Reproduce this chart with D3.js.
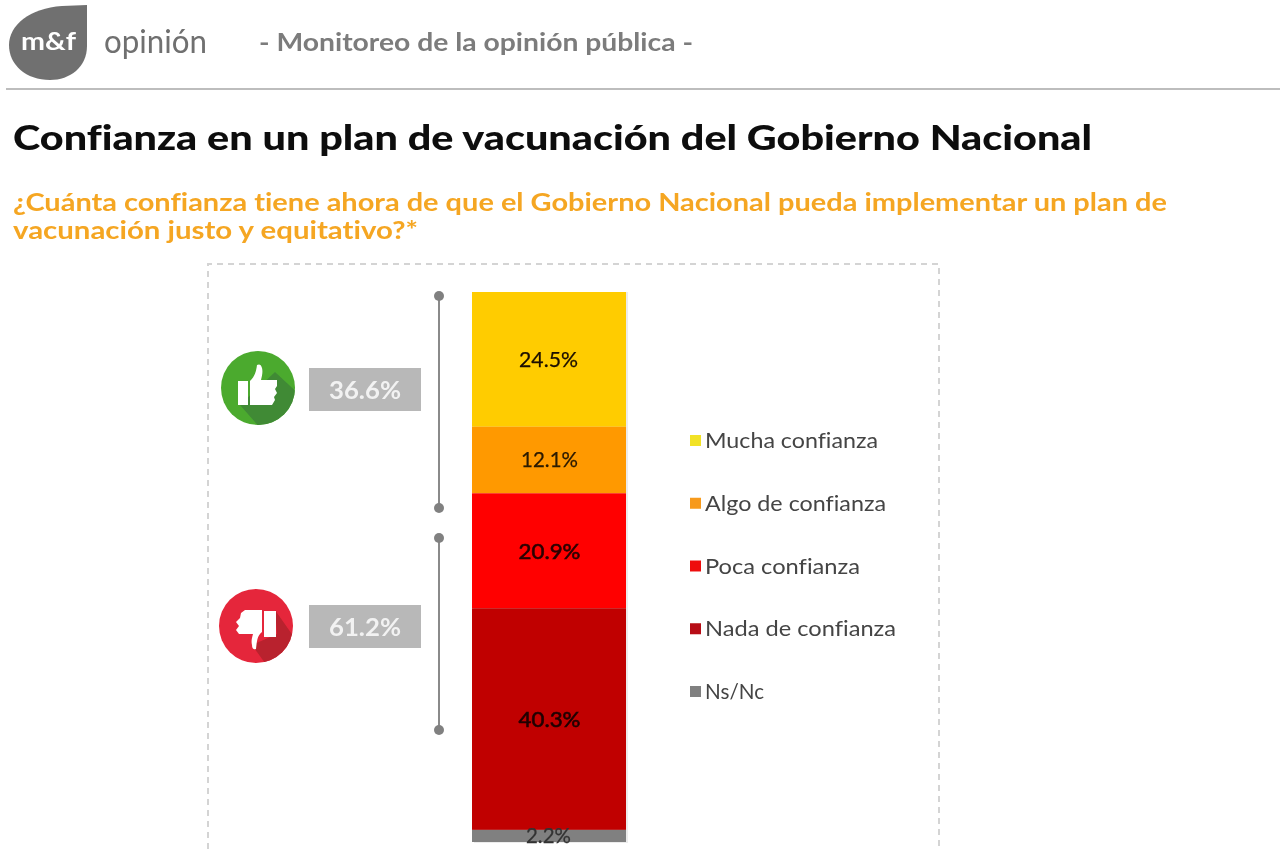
<!DOCTYPE html>
<html lang="es"><head><meta charset="utf-8">
<script src="https://cdn.jsdelivr.net/npm/d3@7"></script>
<style>html,body{margin:0;padding:0;background:#fff}svg{display:block}text{font-family:Lato,"Open Sans",sans-serif;font-variant-ligatures:none}</style>
</head><body><div id="c"></div>
<script>
const categories = ["Mucha confianza","Algo de confianza","Poca confianza","Nada de confianza","Ns/Nc"];
const values = [24.5,12.1,20.9,40.3,2.2];
const colors = ["#ffcc00","#ff9900","#ff0000","#c00000","#808080"];
const legendColors = ["#f2e227","#f79a1c","#ee1111","#b70a12","#808080"];
const groupLabels = ["36.6%","61.2%"];

const svg = d3.select("#c").append("svg").attr("width",1280).attr("height",850);
const defs = svg.append("defs");
defs.append("filter").attr("id","soft").attr("x","-5%").attr("y","-5%").attr("width","110%").attr("height","110%")
  .append("feGaussianBlur").attr("stdDeviation",0.5);
const root = svg.append("g").attr("filter","url(#soft)");

function fit(t,w){ // stretch a text to the width
  t.attr("textLength",w).attr("lengthAdjust","spacingAndGlyphs");
}

// header
root.append("path").attr("d","M62,6 L87,5 L87,46 C87,67 70,80 50,80 C26,80 9,65 9,45 C9,25 30,8 62,6 Z").attr("fill","#707070");
root.append("text").attr("x",21).attr("y",50).attr("font-size",24).attr("font-weight",700).attr("fill","#fff").text("m&f").call(fit,55);
root.append("text").attr("x",104).attr("y",53).attr("font-size",32).attr("fill","#6f6f6f").text("opinión").call(fit,103);
root.append("text").attr("x",259).attr("y",51).attr("font-size",25).attr("font-weight",700).attr("fill","#7b7b7b").text("- Monitoreo de la opinión pública -").call(fit,434);
root.append("rect").attr("x",6).attr("y",88).attr("width",1274).attr("height",2).attr("fill","#bdbdbd");

// titles
root.append("text").attr("x",13).attr("y",150).attr("font-size",34).attr("font-weight",900).attr("fill","#0a0a0a").text("Confianza en un plan de vacunación del Gobierno Nacional").call(fit,1079);
root.append("text").attr("x",13).attr("y",211).attr("font-size",25).attr("font-weight",700).attr("fill","#f5a623").text("¿Cuánta confianza tiene ahora de que el Gobierno Nacional pueda implementar un plan de").call(fit,1154);
root.append("text").attr("x",13).attr("y",239).attr("font-size",25).attr("font-weight",700).attr("fill","#f5a623").text("vacunación justo y equitativo?*").call(fit,405);

// dashed frame
root.append("path").attr("d","M208,860 L208,264 L939,264 L939,860").attr("fill","none").attr("stroke","#d4d4d4").attr("stroke-width",2).attr("stroke-dasharray","6 5");

// stacked bar
const y = d3.scaleLinear().domain([0,100]).range([292,842]);
const x = d3.scaleBand().domain(["total"]).range([472,626]);
let acc = 0;
const stack = values.map((v,i)=>{const s={v,i,y0:acc,y1:acc+v};acc+=v;return s;});
root.append("rect").attr("x",x("total")+2).attr("y",y(0)).attr("width",x.bandwidth()).attr("height",y(100)-y(0)+1).attr("fill","#ececec");
root.selectAll("rect.seg").data(stack).join("rect").attr("class","seg")
  .attr("x",x("total")).attr("width",x.bandwidth())
  .attr("y",d=>y(d.y0)).attr("height",d=>y(d.y1)-y(d.y0)).attr("fill",d=>colors[d.i]);
const labelOffset = [1,0,1.2,1,0];
const valueFill = ["#1c1000","#2a1a00","#2a0000","#200000","#333333"];
const valueWidth = [59,57,62,62,45];
root.selectAll("text.val").data(stack).join("text").attr("class","val")
  .attr("x",d=>x("total")+x.bandwidth()/2-0.5-valueWidth[d.i]/2+(d.i===1?1:0)+(d.i===2||d.i===3?1:0))
  .attr("y",d=>y((d.y0+d.y1)/2)+7+labelOffset[d.i])
  .attr("font-size",21).attr("fill",d=>valueFill[d.i])
  .attr("stroke",d=>valueFill[d.i]).attr("stroke-width",d=>(d.i===2||d.i===3)?0.6:0.25)
  .text(d=>d.v.toFixed(1)+"%")
  .each(function(d){fit(d3.select(this),valueWidth[d.i]);});

// brackets
[[296,508],[538,730]].forEach(([a,b])=>{
  root.append("line").attr("x1",439).attr("x2",439).attr("y1",a).attr("y2",b).attr("stroke","#8a8a8a").attr("stroke-width",2);
  [a,b].forEach(c=>root.append("circle").attr("cx",439).attr("cy",c).attr("r",5).attr("fill","#808080"));
});

// group icons + labels
const clipG = defs.append("clipPath").attr("id","cg"); clipG.append("circle").attr("cx",258).attr("cy",388).attr("r",37);
const clipR = defs.append("clipPath").attr("id","cr"); clipR.append("circle").attr("cx",256).attr("cy",626).attr("r",37);
root.append("circle").attr("cx",258).attr("cy",388).attr("r",37).attr("fill","#4caa2f");
root.append("path").attr("clip-path","url(#cg)").attr("d","M240,405 L275,372 L300,395 L280,430 L262,430 Z").attr("fill","#3f8a35");
root.append("path").attr("fill","#fff").attr("d","M238,381 H248 V405 H238 Z M250,381 C255,376 256,372 257,365 C259,364 261,364 262,368 C263,372 262,376 261,380 H277 V386 L275,389 L277,393 L274,397 L275,400 L272,405 H250 Z");
root.append("circle").attr("cx",256).attr("cy",626).attr("r",37).attr("fill","#e5263a");
root.append("path").attr("clip-path","url(#cr)").attr("d","M275,610 L296,640 L270,670 L252,645 L277,634 Z").attr("fill","#b9242e");
root.append("path").attr("fill","#fff").attr("d","M276,611 V637 H264 V611 Z M262,610 V632 C257,636 257,641 256,649 C254,650 252,649 252,645 C251,641 252,638 253,634 H239 L236,630 L239,626 L236,622 L240,618 L241,613 L245,610 Z");
const groupY = d3.scalePoint().domain(groupLabels).range([390,627]);
root.selectAll("rect.grp").data(groupLabels).join("rect").attr("class","grp")
  .attr("x",309).attr("width",112).attr("height",43).attr("y",d=>groupY(d)-22).attr("fill","#b8b8b8");
root.selectAll("text.grp").data(groupLabels).join("text").attr("class","grp")
  .attr("x",329).attr("y",d=>groupY(d)+9).attr("font-size",25).attr("font-weight",700).attr("fill","#f2f2f2").text(d=>d).call(fit,72);

// legend
const ly = d3.scalePoint().domain(categories).range([441,692]);
root.selectAll("rect.leg").data(categories).join("rect").attr("class","leg")
  .attr("x",690).attr("width",11).attr("height",11).attr("y",d=>ly(d)-6).attr("fill",(d,i)=>legendColors[i]);
const legendW = [173,181,155,191,59];
root.selectAll("text.leg").data(categories).join("text").attr("class","leg")
  .attr("x",705).attr("y",d=>ly(d)+7).attr("font-size",21).attr("fill","#444").text(d=>d)
  .each(function(d,i){fit(d3.select(this),legendW[i]);});
</script></body></html>
